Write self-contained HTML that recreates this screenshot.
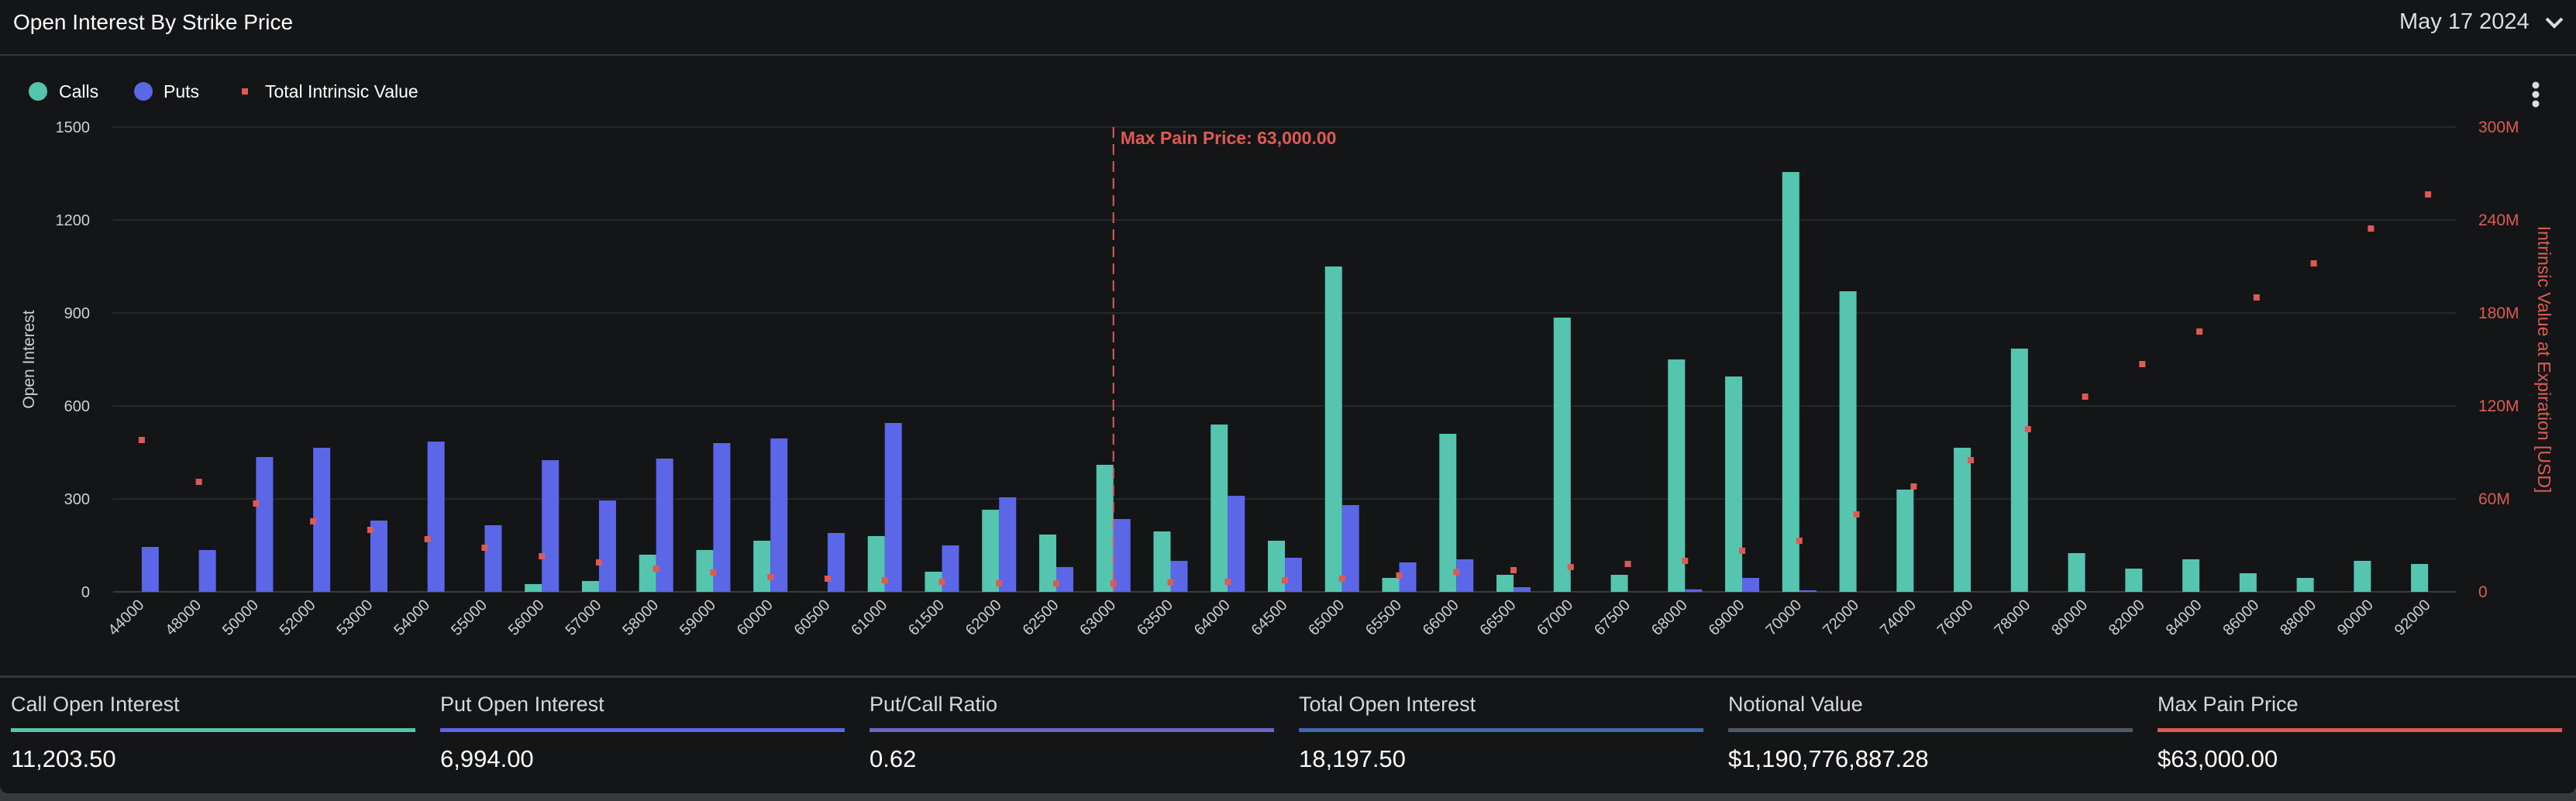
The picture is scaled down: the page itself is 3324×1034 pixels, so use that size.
<!DOCTYPE html>
<html><head><meta charset="utf-8">
<style>
html,body{margin:0;padding:0;background:#38393b;}
body{width:3324px;height:1034px;overflow:hidden;font-family:"Liberation Sans",sans-serif;}
#card{position:absolute;left:0;top:0;width:3324px;height:1024px;background:#141517;border-radius:0 0 10px 10px;overflow:hidden;}
.t{position:absolute;white-space:nowrap;}
.stat{position:absolute;top:880px;width:522px;height:140px;}
.stat .lab{position:absolute;top:14px;left:0;font-size:27px;color:#d8d8d8;}
.stat .bar{position:absolute;top:60px;left:0;width:522px;height:5px;}
.stat .val{position:absolute;top:82px;left:0;font-size:31px;color:#fff;}
</style></head><body>
<div id="card">
<div class="t" style="left:17px;top:13px;font-size:28px;color:#fff;">Open Interest By Strike Price</div>
<div class="t" style="left:3096px;top:12px;font-size:29px;color:#ddd;">May 17 2024 <svg width="28" height="20" style="margin-left:10px;vertical-align:middle" viewBox="0 0 28 20"><path d="M4 5 L14 15 L24 5" stroke="#ddd" stroke-width="4" fill="none"/></svg></div>
<div style="position:absolute;left:0;top:70px;width:3324px;height:2px;background:#333437;"></div>
<svg id="chart" width="3324" height="872" style="position:absolute;left:0;top:0"></svg>
<div style="position:absolute;left:0;top:872px;width:3324px;height:3px;background:#333437;"></div>
<div class="stat" style="left:14px"><div class="lab">Call Open Interest</div><div class="bar" style="background:#56c5b0"></div><div class="val">11,203.50</div></div>
<div class="stat" style="left:568px"><div class="lab">Put Open Interest</div><div class="bar" style="background:#5b67e6"></div><div class="val">6,994.00</div></div>
<div class="stat" style="left:1122px"><div class="lab">Put/Call Ratio</div><div class="bar" style="background:#6f66c8"></div><div class="val">0.62</div></div>
<div class="stat" style="left:1676px"><div class="lab">Total Open Interest</div><div class="bar" style="background:#4566b0"></div><div class="val">18,197.50</div></div>
<div class="stat" style="left:2230px"><div class="lab">Notional Value</div><div class="bar" style="background:#4e5a6a"></div><div class="val">$1,190,776,887.28</div></div>
<div class="stat" style="left:2784px"><div class="lab">Max Pain Price</div><div class="bar" style="background:#de5a55"></div><div class="val">$63,000.00</div></div>
</div>
<script>
const strikes=["44000","48000","50000","52000","53000","54000","55000","56000","57000","58000","59000","60000","60500","61000","61500","62000","62500","63000","63500","64000","64500","65000","65500","66000","66500","67000","67500","68000","69000","70000","72000","74000","76000","78000","80000","82000","84000","86000","88000","90000","92000"];
const calls=[0,0,0,0,0,0,0,25,35,120,135,165,0,180,65,265,185,410,195,540,165,1050,45,510,55,885,55,750,695,1355,970,330,465,785,125,75,105,60,45,100,90];
const puts=[145,135,435,465,230,485,215,425,295,430,480,495,190,545,150,305,80,235,100,310,110,280,95,105,15,0,0,8,45,5,0,0,0,0,0,0,0,0,0,0,0];
const intrinsic=[98,71,57,45.5,40,34,28.5,23,19,15,12.5,9.5,8.5,7.5,6.5,5.5,5.3,5.3,6.2,6.4,7.4,8.5,10.6,12.7,14,16,18,20,26.5,33,50,68,85,105,126,147,168,190,212,234.5,256.5];
const leftTicks=[0,300,600,900,1200,1500];
const rightTicks=[0,60,120,180,240,300];
const maxPainStrike="63000";
const NS="http://www.w3.org/2000/svg";
const svg=document.getElementById('chart');
const X0=146,X1=3170,Y0=764,Y1=164;
const band=(X1-X0)/strikes.length;
function xc(i){return X0+band*(i+0.5);}
function yl(v){return Y0-(v/1500)*(Y0-Y1);}
function yr(v){return Y0-(v/300)*(Y0-Y1);}
function mk(tag,attrs,parent){const e=document.createElementNS(NS,tag);for(const k in attrs)e.setAttribute(k,attrs[k]);(parent||svg).appendChild(e);return e;}
leftTicks.forEach((t,i)=>{
  const g=mk('line',{x1:X0,x2:X1,y1:yl(t),y2:yl(t),stroke:i==0?'#3a3b3e':'#26272a','stroke-width':2});
  
  
  const l=mk('text',{x:116,y:yl(t)+7,'text-anchor':'end','font-size':20,fill:'#cfcfcf','font-family':'Liberation Sans'});
  l.textContent=t;
  
  
});
rightTicks.forEach(t=>{
  const l=mk('text',{x:3198,y:yr(t)+7,'font-size':21,fill:'#de5a55','font-family':'Liberation Sans'});
  l.textContent=t===0?'0':t+'M';
  
  
});
const bw=22;
strikes.forEach((s,i)=>{
  const c=xc(i);
  if(calls[i]>0){const r=mk('rect',{x:c-bw,y:yl(calls[i]),width:bw,height:Y0-yl(calls[i]),fill:'#56c5b0'});
    
    }
  if(puts[i]>0){const r=mk('rect',{x:c,y:yl(puts[i]),width:bw,height:Y0-yl(puts[i]),fill:'#5b67e6'});
    
    }
  const d=mk('rect',{x:c-4,y:yr(intrinsic[i])-4,width:8,height:8,fill:'#de5a55'});
  
  
  const tx=mk('text',{x:c+4,y:782,'text-anchor':'end','font-size':20,fill:'#cfcfcf','font-family':'Liberation Sans',transform:`rotate(-45 ${c+4} 782)`});
  tx.textContent=s;
  
  
});
const mpi=strikes.indexOf(maxPainStrike);
const mx=xc(mpi);
const ml=mk('line',{x1:mx,x2:mx,y1:Y1,y2:Y0,stroke:'#de5a55','stroke-width':2,'stroke-dasharray':'14 8'});


const mt=mk('text',{x:mx+9,y:186,'font-size':23,'font-weight':'bold',fill:'#de5a55','font-family':'Liberation Sans'});
mt.textContent='Max Pain Price: 63,000.00';


const yt=mk('text',{x:44,y:464,'text-anchor':'middle','font-size':21,fill:'#cfcfcf','font-family':'Liberation Sans',transform:'rotate(-90 44 464)'});
yt.textContent='Open Interest';


const rt=mk('text',{x:3275,y:464,'text-anchor':'middle','font-size':23,fill:'#de5a55','font-family':'Liberation Sans',transform:'rotate(90 3275 464)'});
rt.textContent='Intrinsic Value at Expiration [USD]';


const lg=mk('g',{});


const e1=mk('ellipse',{cx:49,cy:118,rx:12,ry:12,fill:'#56c5b0'},lg);


const t1=mk('text',{x:76,y:126,'font-size':23,fill:'#fff','font-family':'Liberation Sans'},lg);t1.textContent='Calls';


const e2=mk('ellipse',{cx:185,cy:118,rx:12,ry:12,fill:'#5b67e6'},lg);


const t2=mk('text',{x:211,y:126,'font-size':23,fill:'#fff','font-family':'Liberation Sans'},lg);t2.textContent='Puts';


const e3=mk('rect',{x:312,y:114,width:8,height:8,fill:'#de5a55'},lg);


const t3=mk('text',{x:342,y:126,'font-size':23,fill:'#fff','font-family':'Liberation Sans'},lg);t3.textContent='Total Intrinsic Value';


const menu=mk('g',{});


[110,122,134].forEach(y=>mk('circle',{cx:3272,cy:y,r:4.5,fill:'#ddd'},menu));
</script>
</body></html>
